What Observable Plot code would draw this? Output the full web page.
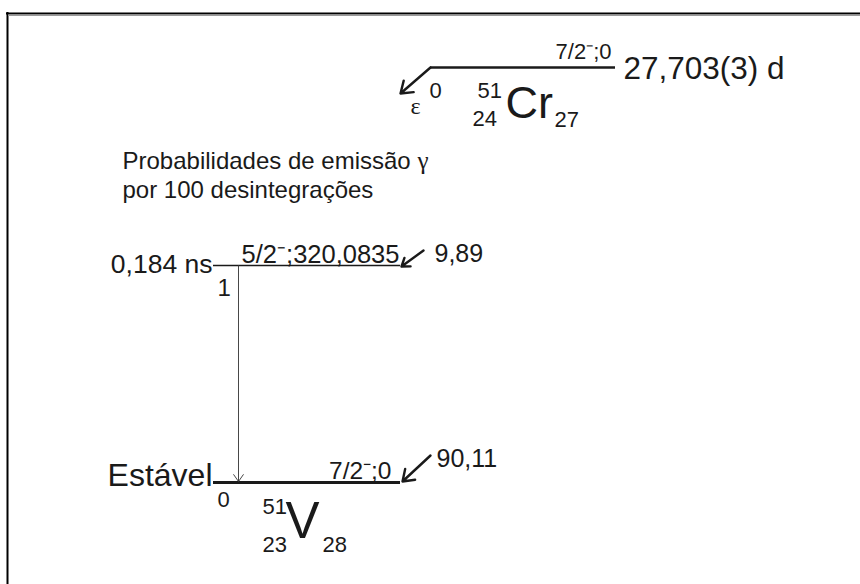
<!DOCTYPE html>
<html><head><meta charset="utf-8">
<script src="https://cdn.jsdelivr.net/npm/d3@7"></script>
<script src="https://cdn.jsdelivr.net/npm/@observablehq/plot@0.6"></script>
<style>html,body{margin:0;padding:0;background:#fff}</style>
</head><body><div id="chart"></div>
<script>
// ---- data read from the decay scheme ----
const nuclideSymbols = ["Cr", "V"];        // parent, daughter
const massNumbers = [51, 51];
const protonNumbers = [24, 23];
const neutronNumbers = [27, 28];
const parentSpin = "7/2⁻";
const parentEnergy = "0";
const parentHalfLife = "27,703(3) d";
const parentIndex = "0";
const decayMode = "ε";
const levelIndices = ["1", "0"];            // daughter levels
const levelSpins = ["5/2⁻", "7/2⁻"];
const levelEnergies = ["320,0835", "0"];
const levelHalfLives = ["0,184 ns", "Estável"];
const feedingProbabilities = ["9,89", "90,11"];
const captionLines = ["Probabilidades de emissão", "por 100 desintegrações"];
const captionSymbol = "γ";

// ---- layout (pixel space) ----
const W = 860, H = 584;
const sans = "Liberation Sans, Arial, sans-serif";
const serif = "Liberation Serif, Times New Roman, serif";
const parentLevel = {x1: 430, x2: 615, y: 67};
const daughterY = [265, 482];
const dx1 = 213, dx2 = 400;

const levelLines = [
  {x1: parentLevel.x1, x2: parentLevel.x2, y: parentLevel.y, w: 2.6},
  {x1: dx1, x2: dx2, y: daughterY[0], w: 1.4},
  {x1: dx1, x2: dx2, y: daughterY[1], w: 3}
];
const feedArrows = [
  {x1: parentLevel.x1, y1: parentLevel.y, x2: 400, y2: 93},
  {x1: 423, y1: 250, x2: 401, y2: daughterY[0] + 1},
  {x1: 430, y1: 455, x2: 402, y2: daughterY[1] - 1}
];
const gammaArrows = [{x1: 238, y1: daughterY[0], x2: 238, y2: daughterY[1] - 1}];

const T = (t, x, y, size, anchor = "start", font = "sans") => ({t, x, y, size, anchor, font});
const texts = [
  T(parentSpin + ";" + parentEnergy, 611, 58, 22, "end"),
  T(parentHalfLife, 623, 78, 31.5),
  T(decayMode, 410, 113, 24, "start", "serif"),
  T(parentIndex, 429, 97, 22),
  T(String(massNumbers[0]), 477, 97, 22),
  T(nuclideSymbols[0], 505, 117, 45),
  T(String(protonNumbers[0]), 472, 125, 22),
  T(String(neutronNumbers[0]), 554, 126, 22),
  T(captionLines[0], 122, 168, 24),
  T(captionSymbol, 417, 168, 25, "start", "serif"),
  T(captionLines[1], 122, 197, 24),
  T(levelHalfLives[0], 212, 272, 26.5, "end"),
  T(levelSpins[0] + ";" + levelEnergies[0], 399, 262, 25.5, "end"),
  T(levelIndices[0], 217, 295, 24),
  T(feedingProbabilities[0], 434, 261, 25),
  T(levelHalfLives[1], 212, 485, 32, "end"),
  T(levelSpins[1] + ";" + levelEnergies[1], 391, 478, 24.5, "end"),
  T(levelIndices[1], 217, 506, 22),
  T(feedingProbabilities[1], 436, 466, 25),
  T(String(massNumbers[1]), 262, 513, 22),
  T(nuclideSymbols[1], 285, 537, 51),
  T(String(protonNumbers[1]), 262, 551, 22),
  T(String(neutronNumbers[1]), 322, 551, 22)
];
const fonts = {sans, serif};
const textMarks = [];
for (const anchor of ["start", "end"]) {
  for (const f of ["sans", "serif"]) {
    const sub = texts.filter(d => d.anchor === anchor && d.font === f);
    if (sub.length) textMarks.push(Plot.text(sub, {
      x: "x", y: "y", text: "t", fontSize: d => d.size, textAnchor: anchor,
      lineAnchor: "bottom", fill: "#1a1a1a", fontFamily: fonts[f]
    }));
  }
}

const plot = Plot.plot({
  width: W, height: H, margin: 0,
  x: {domain: [0, W], range: [0, W], axis: null},
  y: {domain: [0, H], range: [0, H], axis: null},
  style: {background: "#fff"},
  marks: [
    Plot.ruleX([7], {y1: 12, y2: H, stroke: "#000", strokeWidth: 2}),
    Plot.ruleY([13], {x1: 6, x2: W, stroke: "#000", strokeWidth: 2}),
    Plot.ruleY([14.8], {x1: 8, x2: W, stroke: "#9a9a9a", strokeWidth: 1.4}),
    Plot.ruleY(levelLines, {x1: "x1", x2: "x2", y: "y", stroke: "#1a1a1a", strokeWidth: d => d.w}),
    Plot.arrow(feedArrows, {x1: "x1", y1: "y1", x2: "x2", y2: "y2", stroke: "#1a1a1a", strokeWidth: 2.4, headLength: 13, headAngle: 70}),
    Plot.arrow(gammaArrows, {x1: "x1", y1: "y1", x2: "x2", y2: "y2", stroke: "#333", strokeWidth: 0.9, headLength: 14, headAngle: 70}),
    ...textMarks
  ]
});
document.getElementById("chart").appendChild(plot);
</script></body></html>
